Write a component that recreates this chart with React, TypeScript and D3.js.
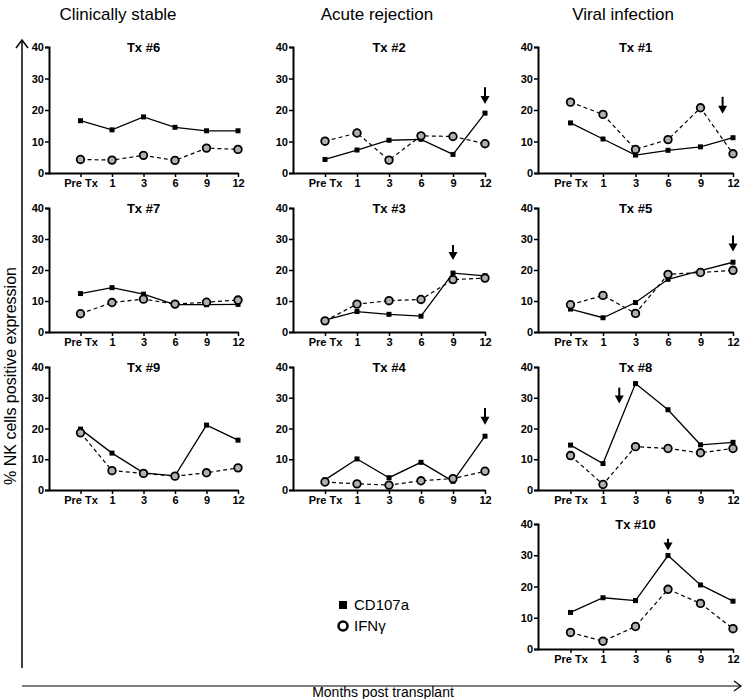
import { useEffect, useRef } from 'react';
import * as d3 from 'd3';

const categories = ['Pre Tx', '1', '3', '6', '9', '12'];
const yTicks = [0, 10, 20, 30, 40];
const groupTitles = ['Clinically stable', 'Acute rejection', 'Viral infection'];

// values (% of NK cells)
const tx6CD107a = [16.6, 13.7, 17.8, 14.5, 13.4, 13.4];
const tx6IFNg = [4.3, 4.1, 5.6, 4.0, 7.9, 7.5];
const tx2CD107a = [4.3, 7.3, 10.4, 10.7, 5.9, 19.0];
const tx2IFNg = [10.1, 12.7, 4.1, 11.8, 11.6, 9.3];
const tx1CD107a = [15.9, 10.8, 5.7, 7.2, 8.3, 11.2];
const tx1IFNg = [22.5, 18.6, 7.5, 10.6, 20.7, 6.1];
const tx7CD107a = [12.4, 14.3, 12.2, 8.8, 8.8, 8.9];
const tx7IFNg = [5.9, 9.5, 10.6, 9.0, 9.6, 10.3];
const tx3CD107a = [3.8, 6.6, 5.7, 5.1, 19.0, 18.1];
const tx3IFNg = [3.6, 9.0, 10.1, 10.5, 16.9, 17.4];
const tx5CD107a = [7.4, 4.6, 9.5, 17.0, 19.8, 22.5];
const tx5IFNg = [8.8, 11.8, 6.0, 18.6, 19.2, 19.9];
const tx9CD107a = [19.8, 12.0, 5.6, 4.6, 21.1, 16.2];
const tx9IFNg = [18.6, 6.3, 5.4, 4.5, 5.6, 7.2];
const tx4CD107a = [3.3, 10.1, 4.0, 9.0, 2.8, 17.5];
const tx4IFNg = [2.6, 2.0, 1.6, 3.0, 3.7, 6.1];
const tx8CD107a = [14.6, 8.6, 34.6, 26.1, 14.7, 15.5];
const tx8IFNg = [11.2, 1.8, 14.1, 13.5, 12.1, 13.5];
const tx10CD107a = [11.7, 16.4, 15.5, 29.9, 20.5, 15.3];
const tx10IFNg = [5.3, 2.5, 7.2, 19.1, 14.6, 6.5];

// arrows: position on the category index scale, top and bottom value
const panels = [
  { title: 'Tx #6', row: 0, col: 0, cd: tx6CD107a, ifn: tx6IFNg, arrow: null },
  { title: 'Tx #2', row: 0, col: 1, cd: tx2CD107a, ifn: tx2IFNg, arrow: [5, 27.2, 21.9] },
  { title: 'Tx #1', row: 0, col: 2, cd: tx1CD107a, ifn: tx1IFNg, arrow: [4.68, 24.2, 18.8] },
  { title: 'Tx #7', row: 1, col: 0, cd: tx7CD107a, ifn: tx7IFNg, arrow: null },
  { title: 'Tx #3', row: 1, col: 1, cd: tx3CD107a, ifn: tx3IFNg, arrow: [4, 28.1, 23.2] },
  { title: 'Tx #5', row: 1, col: 2, cd: tx5CD107a, ifn: tx5IFNg, arrow: [5, 31.1, 26] },
  { title: 'Tx #9', row: 2, col: 0, cd: tx9CD107a, ifn: tx9IFNg, arrow: null },
  { title: 'Tx #4', row: 2, col: 1, cd: tx4CD107a, ifn: tx4IFNg, arrow: [5, 26.7, 21.2] },
  { title: 'Tx #8', row: 2, col: 2, cd: tx8CD107a, ifn: tx8IFNg, arrow: [1.5, 33.3, 28.1] },
  { title: 'Tx #10', row: 3, col: 2, cd: tx10CD107a, ifn: tx10IFNg, arrow: [3, 35.3, 31.5] },
];

const colLeft = [49, 293, 538];
const colRight = [238, 485, 733];
const rowTop = [47, 208, 367, 524];
const rowBottom = [173, 332, 490, 649];
const headingX = [118, 377, 623];

const font = '"Liberation Sans", Arial, sans-serif';

export default function App() {
  const svgRef = useRef<SVGSVGElement>(null);

  useEffect(() => {
    const svg = d3.select(svgRef.current);
    svg.selectAll('*').remove();
    svg.attr('width', 746).attr('height', 699).style('font-family', font);

    svg.append('rect').attr('width', 746).attr('height', 699).attr('fill', '#fff');

    // group headings
    groupTitles.forEach((t, i) => {
      svg.append('text')
        .attr('x', headingX[i])
        .attr('y', 20)
        .attr('text-anchor', 'middle')
        .style('font-size', '17px')
        .text(t);
    });

    panels.forEach(p => {
      const x = d3.scaleLinear().domain([-1, 5]).range([colLeft[p.col], colRight[p.col]]);
      const y = d3.scaleLinear().domain([0, 40]).range([rowBottom[p.row], rowTop[p.row]]);
      const g = svg.append('g');

      // y axis
      const ya = g.append('g')
        .attr('transform', `translate(${colLeft[p.col]},0)`)
        .call(d3.axisLeft(y).tickValues(yTicks).tickSize(4).tickPadding(1));
      ya.select('.domain').attr('stroke-width', 2);
      ya.selectAll('.tick line').attr('stroke-width', 1.5);
      ya.selectAll('text').style('font-size', '11px').style('font-weight', 'bold').style('font-family', font);

      // x axis
      const xa = g.append('g')
        .attr('transform', `translate(0,${rowBottom[p.row]})`)
        .call(d3.axisBottom(x).tickValues(d3.range(categories.length))
          .tickFormat(i => categories[+i]).tickSize(4).tickSizeOuter(0).tickPadding(2));
      xa.select('.domain').attr('stroke-width', 2);
      xa.selectAll('.tick line').attr('stroke-width', 1.5);
      xa.selectAll('text').style('font-size', '11px').style('font-weight', 'bold').style('font-family', font);

      // title
      g.append('text')
        .attr('x', (colLeft[p.col] + colRight[p.col]) / 2)
        .attr('y', rowTop[p.row] + 5)
        .attr('text-anchor', 'middle')
        .style('font-size', '13px')
        .style('font-weight', 'bold')
        .text(p.title);

      const line = d3.line<number>().x((_, i) => x(i)).y(d => y(d));

      g.append('path')
        .attr('d', line(p.ifn))
        .attr('fill', 'none')
        .attr('stroke', '#000')
        .attr('stroke-width', 1.2)
        .attr('stroke-dasharray', '4,3');

      g.append('path')
        .attr('d', line(p.cd))
        .attr('fill', 'none')
        .attr('stroke', '#000')
        .attr('stroke-width', 1.3);

      g.selectAll('rect.cd')
        .data(p.cd)
        .join('rect')
        .attr('class', 'cd')
        .attr('x', (_, i) => x(i) - 2.5)
        .attr('y', d => y(d) - 2.5)
        .attr('width', 5)
        .attr('height', 5)
        .attr('fill', '#000');

      g.selectAll('circle.ifn')
        .data(p.ifn)
        .join('circle')
        .attr('class', 'ifn')
        .attr('cx', (_, i) => x(i))
        .attr('cy', d => y(d))
        .attr('r', 3.8)
        .attr('fill', '#b0b0b0')
        .attr('stroke', '#000')
        .attr('stroke-width', 1.8);

      if (p.arrow) {
        const [ax, top, bot] = p.arrow;
        const px = x(ax);
        g.append('line')
          .attr('x1', px).attr('x2', px)
          .attr('y1', y(top)).attr('y2', y(bot) - 6)
          .attr('stroke', '#000').attr('stroke-width', 2);
        g.append('path')
          .attr('d', `M${px - 4.5},${y(bot) - 8}L${px + 4.5},${y(bot) - 8}L${px},${y(bot)}Z`)
          .attr('fill', '#000');
      }
    });

    // outer axis arrows
    svg.append('line').attr('x1', 22).attr('x2', 22).attr('y1', 40).attr('y2', 668)
      .attr('stroke', '#000').attr('stroke-width', 1.5);
    svg.append('path').attr('d', 'M16,48L22,40L28,48').attr('fill', 'none')
      .attr('stroke', '#000').attr('stroke-width', 1.5);
    svg.append('line').attr('x1', 22).attr('x2', 741).attr('y1', 686).attr('y2', 686)
      .attr('stroke', '#000').attr('stroke-width', 1.2);
    svg.append('path').attr('d', 'M734,681L741,686L734,691').attr('fill', 'none')
      .attr('stroke', '#000').attr('stroke-width', 1.2);

    svg.append('text')
      .attr('transform', 'translate(16,376) rotate(-90)')
      .attr('text-anchor', 'middle')
      .style('font-size', '16px')
      .text('% NK cells positive expression');

    svg.append('text')
      .attr('x', 383)
      .attr('y', 697)
      .attr('text-anchor', 'middle')
      .style('font-size', '14px')
      .text('Months post transplant');

    // legend
    const lx = 343;
    svg.append('rect').attr('x', lx - 4).attr('y', 601).attr('width', 8).attr('height', 8).attr('fill', '#000');
    svg.append('text').attr('x', lx + 11).attr('y', 610).style('font-size', '15px').text('CD107a');
    svg.append('circle').attr('cx', lx).attr('cy', 626).attr('r', 4.5)
      .attr('fill', '#fff').attr('stroke', '#000').attr('stroke-width', 2.5);
    svg.append('text').attr('x', lx + 11).attr('y', 631).style('font-size', '15px').text('IFNγ');
  }, []);

  return <svg ref={svgRef} style={{ position: 'absolute', left: 0, top: 0, display: 'block' }}></svg>;
}
